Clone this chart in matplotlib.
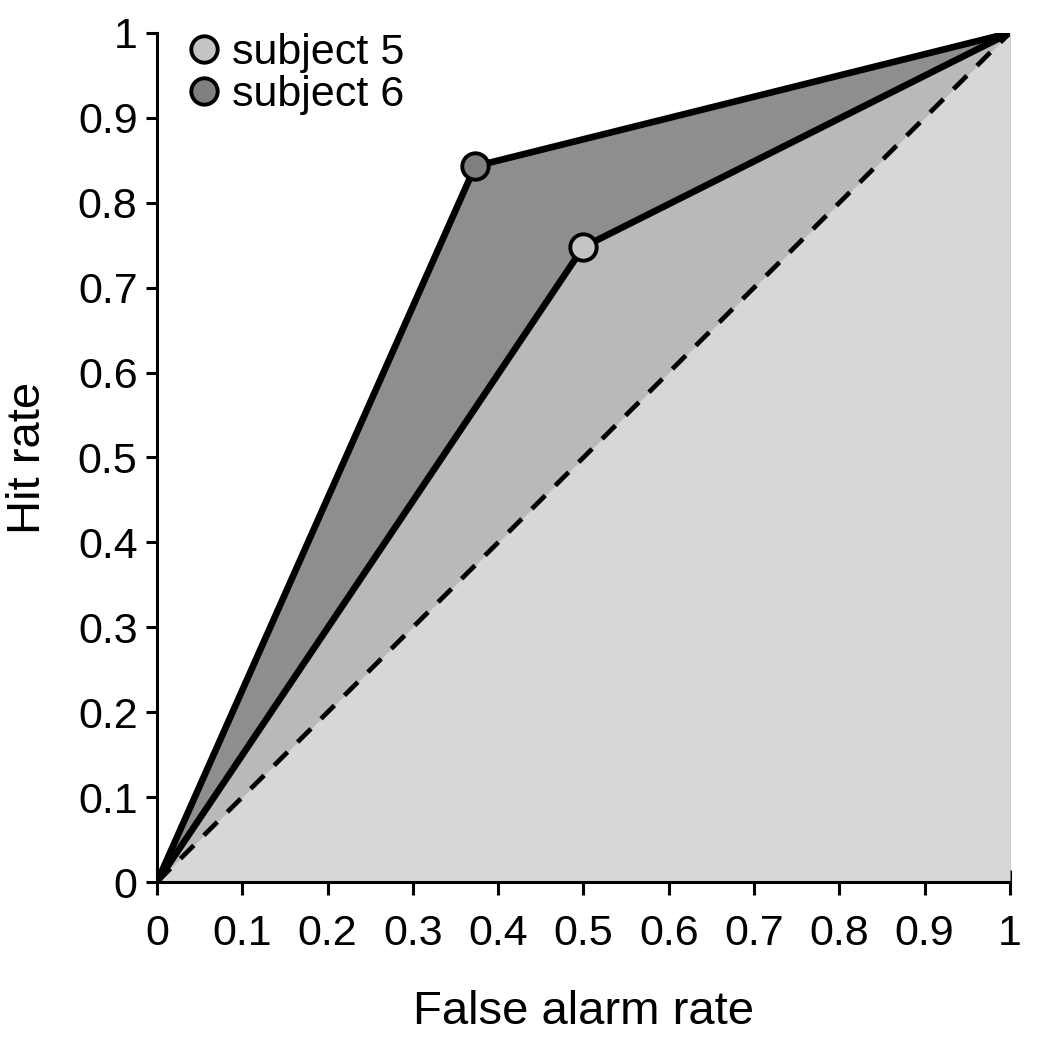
import matplotlib.pyplot as plt

plt.rcParams['font.family'] = ['Liberation Sans', 'DejaVu Sans']

# ROC points (false alarm rate, hit rate)
fa_s5 = [0, 0.5, 1]
hit_s5 = [0, 0.748, 1]
fa_s6 = [0, 0.373, 1]
hit_s6 = [0, 0.843, 1]
chance = [0, 1]

ticks = [0, 0.1, 0.2, 0.3, 0.4, 0.5, 0.6, 0.7, 0.8, 0.9, 1]
tick_labels = ["0", "0.1", "0.2", "0.3", "0.4", "0.5", "0.6", "0.7", "0.8", "0.9", "1"]

fig = plt.figure(figsize=(10.4, 10.5), dpi=100)
ax = fig.add_axes([0.151, 0.16, 0.82, 0.8086])

# shaded areas, drawn from top curve down
ax.fill_between(fa_s6, hit_s6, color="#8e8e8e", lw=0, zorder=1)
ax.fill_between(fa_s5, hit_s5, color="#b9b9b9", lw=0, zorder=2)
ax.fill_between(chance, chance, color="#d7d7d7", lw=0, zorder=3)

ax.plot(chance, chance, color="black", lw=3.4, dashes=(4, 3), zorder=4)
ax.plot(fa_s6, hit_s6, color="black", lw=4.8, zorder=5)
ax.plot(fa_s5, hit_s5, color="black", lw=4.8, zorder=5)

# markers only on the middle points
ax.plot(fa_s5[1:2], hit_s5[1:2], "o", ms=19, mfc="#c4c4c4", mec="black", mew=2.8, zorder=6,
        label="subject 5")
ax.plot(fa_s6[1:2], hit_s6[1:2], "o", ms=19, mfc="#7f7f7f", mec="black", mew=2.8, zorder=6,
        label="subject 6")

ax.set_xlim(0, 1)
ax.set_ylim(0, 1)
ax.set_xticks(ticks)
ax.set_xticklabels(tick_labels)
ax.set_yticks(ticks)
ax.set_yticklabels(tick_labels)
ax.spines["top"].set_visible(False)
ax.spines["right"].set_visible(False)
for s in ["left", "bottom"]:
    ax.spines[s].set_linewidth(2.2)
    ax.spines[s].set_zorder(7)
ax.tick_params(axis="x", direction="inout", length=18, width=2.2, labelsize=31, pad=14)
ax.tick_params(axis="y", direction="out", length=8, width=2.2, labelsize=31, pad=6)

ax.set_xlabel("False alarm rate", fontsize=34, labelpad=26)
ax.set_ylabel("Hit rate", fontsize=34, labelpad=20)

ax.legend(loc="upper left", bbox_to_anchor=(0.01, 1.02), frameon=False, fontsize=31,
          handletextpad=0.15, labelspacing=0.05, borderaxespad=0, handlelength=1.0)

fig.savefig("out.png", dpi=100)
